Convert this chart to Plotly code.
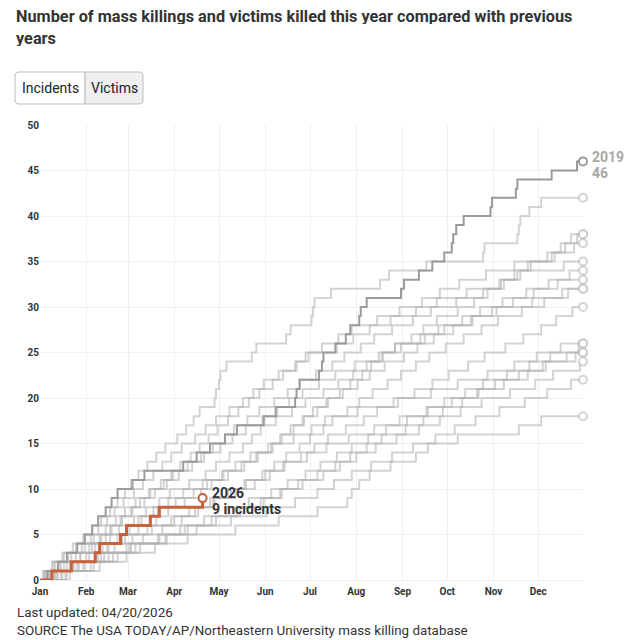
import pandas as pd
import plotly.graph_objects as go

# day-of-year (0 = Jan 1) of each incident
days_2019 = [5, 12, 18, 25, 30, 35, 39, 44, 48, 52, 62, 70, 96, 105, 114, 124, 132, 150,
             158, 171, 172, 174, 187, 189, 190, 198, 205, 208, 214, 215, 219, 242, 244,
             254, 263, 271, 276, 277, 279, 284, 302, 303, 319, 320, 343, 360]
days_a = [3, 9, 16, 24, 29, 35, 41, 47, 52, 57, 61, 66, 72, 78, 84, 92, 98, 103, 107, 117,
          118, 120, 121, 125, 142, 145, 165, 168, 182, 183, 184, 195, 228, 234, 259, 297,
          298, 320, 321, 322, 328, 336]
days_b = [6, 14, 27, 33, 40, 48, 55, 62, 70, 77, 83, 88, 94, 101, 107, 113, 119, 126, 133,
          140, 147, 156, 163, 171, 178, 189, 200, 209, 226, 241, 256, 268, 281, 299, 318,
          340, 349, 356]
days_c = [11, 25, 38, 46, 55, 66, 78, 86, 97, 108, 115, 126, 137, 146, 155, 162, 170, 177,
          186, 193, 201, 208, 216, 222, 230, 238, 249, 257, 266, 280, 291, 300, 311, 320,
          329, 343, 352, 360]
days_d = [4, 10, 19, 28, 36, 44, 51, 57, 64, 73, 81, 89, 99, 108, 116, 124, 130, 139, 147,
          157, 166, 174, 185, 196, 204, 215, 224, 236, 250, 262, 279, 297, 308, 318, 327,
          345, 358]
days_e = [2, 8, 15, 22, 34, 39, 45, 50, 56, 63, 69, 76, 82, 88, 95, 104, 111, 118, 127, 136,
          143, 150, 160, 172, 180, 199, 210, 221, 235, 252, 266, 286, 309, 322, 351]
days_f = [9, 18, 27, 37, 44, 53, 63, 71, 80, 87, 100, 111, 118, 127, 136, 142, 148, 158, 169,
          178, 190, 200, 210, 219, 229, 238, 255, 267, 283, 295, 310, 326, 341, 355]
days_g = [7, 20, 31, 42, 52, 60, 68, 79, 91, 103, 112, 123, 131, 141, 153, 161, 168, 176, 183,
          192, 203, 213, 221, 231, 244, 253, 264, 277, 290, 303, 317, 331, 347]
days_h = [5, 13, 21, 30, 41, 47, 54, 61, 67, 74, 85, 93, 102, 110, 121, 129, 138, 149, 159,
          167, 176, 187, 198, 211, 227, 242, 258, 271, 289, 306, 330, 350]
days_i = [15, 30, 43, 58, 69, 82, 95, 106, 117, 128, 138, 149, 157, 165, 174, 181, 190, 196,
          206, 214, 223, 233, 242, 252, 261, 272, 284, 296, 307, 323, 338, 354]
days_j = [12, 26, 39, 50, 62, 75, 90, 104, 116, 131, 144, 154, 164, 175, 184, 193, 205, 217,
          226, 240, 251, 263, 274, 287, 298, 312, 324, 336, 346, 357]
days_k = [3, 16, 24, 35, 47, 58, 66, 76, 86, 96, 109, 122, 135, 145, 156, 170, 182, 191, 213,
          237, 262, 280, 300, 318, 333, 349]
days_l = [18, 34, 49, 64, 80, 94, 110, 125, 140, 155, 166, 178, 188, 199, 209, 220, 232, 246,
          260, 271, 285, 297, 313, 328, 342, 361]
days_m = [10, 22, 33, 45, 57, 72, 88, 100, 114, 126, 137, 151, 163, 179, 192, 207, 224, 241,
          259, 276, 293, 305, 321, 337, 353]
days_n = [20, 36, 52, 67, 84, 99, 118, 134, 150, 162, 173, 186, 198, 208, 219, 229, 245, 257,
          270, 283, 294, 311, 327, 339, 359]
days_o = [14, 29, 46, 61, 79, 97, 115, 132, 148, 161, 176, 190, 201, 212, 225, 239, 254, 268,
          282, 296, 315, 332, 344, 362]
days_p = [8, 23, 41, 60, 85, 105, 128, 152, 171, 186, 197, 209, 222, 236, 250, 265, 278, 292,
          308, 325, 340, 356]
days_q = [17, 40, 58, 77, 99, 131, 160, 186, 206, 209, 214, 221, 235, 252, 260, 280, 321, 336]

days_2026 = [8, 21, 37, 40, 54, 58, 74, 80, 109]

previous = [days_a, days_b, days_c, days_d, days_e, days_f, days_g, days_h, days_i,
            days_j, days_k, days_l, days_m, days_n, days_o, days_p, days_q]

title_lines = ["Number of mass killings and victims killed this year compared with previous",
               "years"]
footer_lines = ["Last updated: 04/20/2026",
                "SOURCE The USA TODAY/AP/Northeastern University mass killing database"]

start = pd.Timestamp("2026-01-01")
year_end = 364

# page body adds an 8px margin, so the figure is a bit smaller than the window
W, H = 624, 632
ML, MR, MT, MB = 32, 49, 117, 60
PW, PH = W - ML - MR, H - MT - MB


def px(x):
    return (x - ML) / PW


def py(y):
    return (H - MB - y) / PH


def to_dates(days):
    return [start + pd.Timedelta(days=d) for d in days]


def step_trace(days, color, width, close_year=True):
    xs = [0] + days + ([year_end] if close_year else [])
    ys = [0] + list(range(1, len(days) + 1)) + ([len(days)] if close_year else [])
    marker_sizes = [0] * (len(xs) - 1) + [8]
    return go.Scatter(
        x=to_dates(xs), y=ys, mode="lines+markers", line_shape="hv",
        line=dict(color=color, width=width),
        marker=dict(size=marker_sizes, color="white", line=dict(color=color, width=2),
                    opacity=1),
        hoverinfo="skip", showlegend=False, cliponaxis=False,
    )


fig = go.Figure()
for d in previous:
    fig.add_trace(step_trace(d, "rgba(175,175,175,0.55)", 2))
fig.add_trace(step_trace(days_2019, "rgba(150,150,150,0.95)", 2))
fig.add_trace(step_trace(days_2026, "#c8623b", 3, close_year=False))

end_x = to_dates([year_end])[0]
for txt, shift in [("2019", 4), ("46", -12)]:
    fig.add_annotation(x=end_x, y=len(days_2019), text="<b>%s</b>" % txt,
                       xanchor="left", yanchor="middle", xshift=7, yshift=shift,
                       showarrow=False, font=dict(size=14, color="#a8a8a8", family="Roboto"))
x26 = to_dates([days_2026[-1]])[0]
for txt, shift in [("2026", 5), ("9 incidents", -11)]:
    fig.add_annotation(x=x26, y=len(days_2026), text="<b>%s</b>" % txt,
                       xanchor="left", yanchor="middle", xshift=7, yshift=shift,
                       showarrow=False, font=dict(size=14, color="#333333", family="Roboto"))

# title
for txt, yy in zip(title_lines, [8, 30]):
    fig.add_annotation(x=px(7), y=py(yy), xref="paper", yref="paper", xanchor="left",
                       yanchor="middle", showarrow=False, text="<b>%s</b>" % txt,
                       height=16, valign="middle", borderpad=0,
                       font=dict(size=16.3, color="#333333", family="Roboto"))

# footer
for txt, yy in zip(footer_lines, [604, 622]):
    fig.add_annotation(x=px(7), y=py(yy), xref="paper", yref="paper", xanchor="left",
                       yanchor="middle", showarrow=False, text=txt,
                       font=dict(size=13.4, color="#333333", family="Roboto"))

# Incidents / Victims toggle
bx0, bx1, bx2, by0, by1, r = 7, 77, 135, 64, 96, 4


def rounded(x0, x1, round_left, round_right):
    rx, ry = r / PW, r / PH
    a0, a1, t, b = px(x0), px(x1), py(by0), py(by1)
    p = "M %f %f " % (a0 + (rx if round_left else 0), t)
    p += "L %f %f " % (a1 - (rx if round_right else 0), t)
    if round_right:
        p += "Q %f %f %f %f " % (a1, t, a1, t - ry)
        p += "L %f %f " % (a1, b + ry)
        p += "Q %f %f %f %f " % (a1, b, a1 - rx, b)
    else:
        p += "L %f %f " % (a1, b)
    p += "L %f %f " % (a0 + (rx if round_left else 0), b)
    if round_left:
        p += "Q %f %f %f %f " % (a0, b, a0, b + ry)
        p += "L %f %f " % (a0, t - ry)
        p += "Q %f %f %f %f " % (a0, t, a0 + rx, t)
    else:
        p += "L %f %f " % (a0, t)
    return p + "Z"


fig.add_shape(type="path", path=rounded(bx0, bx1, True, False), xref="paper", yref="paper",
              fillcolor="white", line=dict(color="#bdbdbd", width=1))
fig.add_shape(type="path", path=rounded(bx1, bx2, False, True), xref="paper", yref="paper",
              fillcolor="#efefef", line=dict(color="#bdbdbd", width=1))
for txt, cx in [("Incidents", (bx0 + bx1) / 2), ("Victims", (bx1 + bx2) / 2)]:
    fig.add_annotation(x=px(cx), y=py((by0 + by1) / 2), xref="paper", yref="paper",
                       xanchor="center", yanchor="middle", showarrow=False, text=txt,
                       font=dict(size=14, color="#222222", family="Roboto"))

fig.update_layout(
    width=W, height=H,
    margin=dict(l=ML, r=MR, t=MT, b=MB, autoexpand=False),
    paper_bgcolor="white", plot_bgcolor="white",
    font=dict(family="Roboto", color="#333333"),
)
fig.update_xaxes(
    range=[start, start + pd.Timedelta(days=year_end)],
    tickformat="%b", dtick="M1", tick0=start, ticks="",
    showgrid=True, gridcolor="#f0f0f0", gridwidth=1,
    showline=True, linecolor="#eeeeee", zeroline=False,
    tickfont=dict(size=10, color="#333333", family="Roboto", weight="bold"),
    ticklabelstandoff=2,
)
fig.update_yaxes(
    range=[0, 50], dtick=5, showgrid=True, gridcolor="#f0f0f0", gridwidth=1,
    zeroline=False, showline=False, ticks="",
    tickfont=dict(size=10, color="#333333", family="Roboto", weight="bold"),
)

fig.write_html("out.html")
